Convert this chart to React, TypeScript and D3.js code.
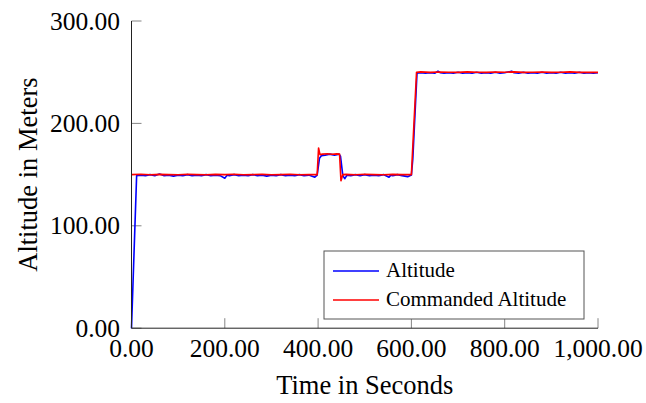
import React from "react";
import * as d3 from "d3";

const xTicks = [0, 200, 400, 600, 800, 1000];
const yTicks = [0, 100, 200, 300];

const altTime = [
  0, 11, 20, 30, 40, 50, 60, 70, 80, 90, 100, 110, 120, 130, 140, 150, 160, 170, 180, 190,
  200, 205, 210, 220, 230, 240, 250, 260, 270, 280, 290, 300, 310, 320, 330, 340, 350, 360,
  370, 380, 393, 398, 403, 407, 415, 425, 435, 445, 448, 453, 457, 462, 470, 480, 490, 500,
  510, 520, 530, 540, 552, 556, 560, 570, 580, 592, 600, 603, 612, 620, 630, 640, 650, 657,
  662, 670, 680, 690, 700, 710, 720, 730, 740, 750, 760, 770, 780, 790, 800, 815, 820, 830,
  840, 850, 860, 870, 880, 890, 900, 910, 920, 930, 940, 950, 960, 970, 980, 990, 1000,
];
const altValue = [
  0, 149, 149.5, 149, 150, 149, 150.5, 149, 149.5, 148.5, 149.5, 149, 150, 149, 149.5, 149, 150, 149, 149.5, 149,
  146.5, 149.5, 149, 150, 149, 149.5, 149, 150, 149, 149.5, 148.5, 149.5, 149, 150, 149, 149.5, 149, 150,
  149, 149.5, 147.5, 149.5, 166, 168.5, 169, 170, 169, 170, 168, 149, 146, 149.5, 149, 150, 149, 150,
  149, 149.5, 149, 150, 147.5, 149.5, 149, 150, 149, 148, 149.5, 165, 249, 249.5, 249, 249.5, 249, 251,
  249.5, 249, 249.5, 249, 250, 249, 249.5, 249, 250, 249, 249.5, 249, 250, 249, 249.5, 251, 249.5, 249,
  250, 249, 249.5, 249, 250, 249, 249.5, 249, 250, 249, 249.5, 249, 250, 249, 249.5, 249, 249.5,
];

const cmdTime = [
  0, 20, 40, 60, 80, 100, 120, 140, 160, 180, 200, 220, 240, 260, 280, 300, 320, 340, 360, 380,
  398, 401, 404, 410, 420, 430, 440, 446, 449, 453, 460, 480, 500, 520, 540, 560, 580, 600, 611,
  620, 640, 660, 680, 700, 720, 740, 760, 780, 800, 820, 840, 860, 880, 900, 920, 940, 960, 980, 1000,
];
const cmdValue = [
  150, 150.3, 149.8, 150.2, 150, 149.8, 150.3, 150, 149.8, 150.2, 150, 150.3, 149.8, 150, 150.2, 149.8, 150, 150.3, 149.8, 150,
  150, 176, 169.5, 170, 170.3, 169.8, 170.2, 170, 144, 150, 150.2, 149.8, 150.3, 150, 149.8, 150.2, 150, 150, 250,
  250.3, 249.8, 250.2, 250, 249.8, 250.3, 250, 249.8, 250.2, 250, 250.3, 249.8, 250, 250.2, 249.8, 250, 250.3, 249.8, 250, 249.8,
];

const W = 646;
const H = 403;
const fontFamily = "'Liberation Serif', 'Times New Roman', serif";

export default function App() {
  const x = d3.scaleLinear().domain([0, 1000]).range([131.5, 598]);
  const y = d3.scaleLinear().domain([0, 300]).range([328.2, 21]);
  const fmt = d3.format(",.2f");

  const alt = altTime.map((t, i) => [t, altValue[i]] as [number, number]);
  const cmd = cmdTime.map((t, i) => [t, cmdValue[i]] as [number, number]);
  const line = d3
    .line<[number, number]>()
    .x((d) => x(d[0]))
    .y((d) => y(d[1]));

  const x0 = x(0);
  const y0 = y(0);
  const tickLen = 10;

  return (
    <svg
      width={W}
      height={H}
      style={{ position: "absolute", left: 0, top: 0, display: "block", background: "#fff" }}
      fontFamily={fontFamily}
    >
      <rect x={0} y={0} width={W} height={H} fill="#fff" />
      {/* ticks */}
      {xTicks.map((t) => (
        <line key={"xt" + t} x1={x(t)} x2={x(t)} y1={y0} y2={y0 - tickLen} stroke="#777" strokeWidth={0.9} />
      ))}
      {yTicks.map((t) => (
        <line key={"yt" + t} x1={x0} x2={x0 + tickLen} y1={y(t)} y2={y(t)} stroke="#777" strokeWidth={0.9} />
      ))}
      {/* data */}
      <path d={line(alt) || ""} fill="none" stroke="#0000ff" strokeWidth={1.6} strokeLinejoin="round" />
      <path d={line(cmd) || ""} fill="none" stroke="#ff0000" strokeWidth={1.6} strokeLinejoin="round" />
      {/* axes */}
      <line x1={x0} x2={x(1000)} y1={y0} y2={y0} stroke="#222" strokeWidth={1} />
      <line x1={x0} x2={x0} y1={y0} y2={y(300)} stroke="#222" strokeWidth={1} />
      {/* tick labels */}
      {xTicks.map((t) => (
        <text key={"xl" + t} x={x(t)} y={357} textAnchor="middle" fontSize={25.5} fill="#000">
          {fmt(t)}
        </text>
      ))}
      {yTicks.map((t) => (
        <text key={"yl" + t} x={120} y={y(t) + 8.5} textAnchor="end" fontSize={25.5} fill="#000">
          {fmt(t)}
        </text>
      ))}
      {/* axis labels */}
      <text x={(x(0) + x(1000)) / 2} y={394} textAnchor="middle" fontSize={26.5} fill="#000">
        Time in Seconds
      </text>
      <text
        transform={`translate(37,${(y(0) + y(300)) / 2}) rotate(-90)`}
        textAnchor="middle"
        fontSize={26.5}
        fill="#000"
      >
        Altitude in Meters
      </text>
      {/* legend */}
      <rect x={324} y={251} width={260} height={68} fill="#fff" stroke="#555" strokeWidth={1} />
      <line x1={333} x2={379} y1={271} y2={271} stroke="#0000ff" strokeWidth={1.6} />
      <line x1={333} x2={379} y1={300} y2={300} stroke="#ff0000" strokeWidth={1.6} />
      <text x={386} y={277} fontSize={21} fill="#000">
        Altitude
      </text>
      <text x={386} y={306} fontSize={21} fill="#000">
        Commanded Altitude
      </text>
    </svg>
  );
}
